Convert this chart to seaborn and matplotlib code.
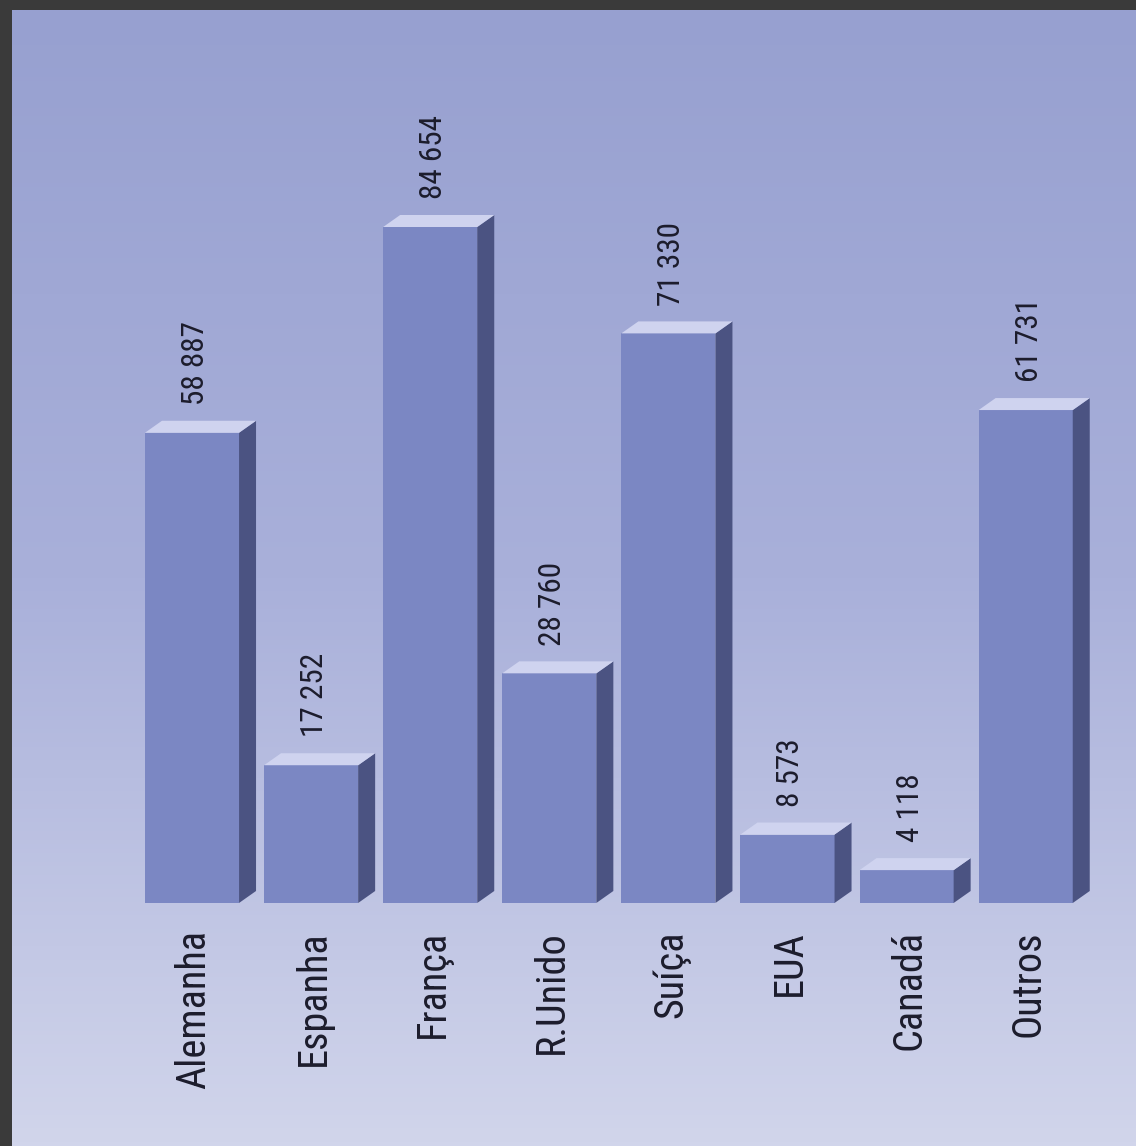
import matplotlib
matplotlib.use("Agg")
import matplotlib.pyplot as plt
import numpy as np
import pandas as pd
import seaborn as sns
from matplotlib.patches import Polygon
from matplotlib.colors import LinearSegmentedColormap

# data
paises = ["Alemanha", "Espanha", "França", "R.Unido", "Suíça", "EUA", "Canadá", "Outros"]
valores = [58887, 17252, 84654, 28760, 71330, 8573, 4118, 61731]
rotulos = ["58 887", "17 252", "84 654", "28 760", "71 330", "8 573", "4 118", "61 731"]

df = pd.DataFrame({"pais": paises, "valor": valores})

sns.set_style("white")
plt.rcParams["font.family"] = ["Roboto Condensed", "Liberation Sans Narrow", "Roboto", "DejaVu Sans"]

W, H = 1136, 1146
fig = plt.figure(figsize=(W / 100, H / 100), dpi=100)
fig.patch.set_facecolor("#3a3a3a")
rect = [12 / W, 0, 1 - 12 / W, 1 - 10 / H]

# gradient background
bg = fig.add_axes(rect)
cmap = LinearSegmentedColormap.from_list("fundo", ["#97a0d0", "#a9b0da", "#d1d5eb"])
grad = np.linspace(0, 1, 256).reshape(-1, 1)
bg.imshow(grad, aspect="auto", cmap=cmap, extent=[0, 1, 0, 1])
bg.set_axis_off()

ax = fig.add_axes(rect)
ax.patch.set_alpha(0)
frente = "#7b87c3"
lado = "#4b5382"
topo = "#cfd3ef"

sns.barplot(data=df, x="pais", y="valor", color=frente, saturation=1,
            width=0.79, linewidth=0, ax=ax, zorder=3)

px_x = 119.1          # pixels per category
px_y = 676 / 84654   # pixels per unit
ax.set_xlim((12 - 192) / px_x, (1136 - 192) / px_x)
ax.set_ylim((903 - 1146) / px_y, (903 - 10) / px_y)
ax.set_axis_off()

dx = 17 / px_x
dy = 12 / px_y
for p in ax.patches[:len(valores)]:
    x0 = p.get_x()
    x1 = x0 + p.get_width()
    h = p.get_height()
    ax.add_patch(Polygon([(x1, 0), (x1 + dx, dy), (x1 + dx, h + dy), (x1, h)],
                         closed=True, facecolor=lado, edgecolor="none", zorder=3))
    ax.add_patch(Polygon([(x0, h), (x1, h), (x1 + dx, h + dy), (x0 + dx, h + dy)],
                         closed=True, facecolor=topo, edgecolor="none", zorder=3))

for i, (v, r) in enumerate(zip(valores, rotulos)):
    ax.annotate(r, (i, v), xytext=(2.5, 20), textcoords="offset points",
                rotation=90, ha="center", va="bottom", fontsize=22.5, color="#1c1c2c")
    ax.annotate(paises[i], (i, 0), xytext=(1.5, -19.5), textcoords="offset points",
                rotation=90, ha="center", va="top", fontsize=29, color="#1c1c2c")

fig.savefig("out.png", dpi=100, facecolor=fig.get_facecolor())
